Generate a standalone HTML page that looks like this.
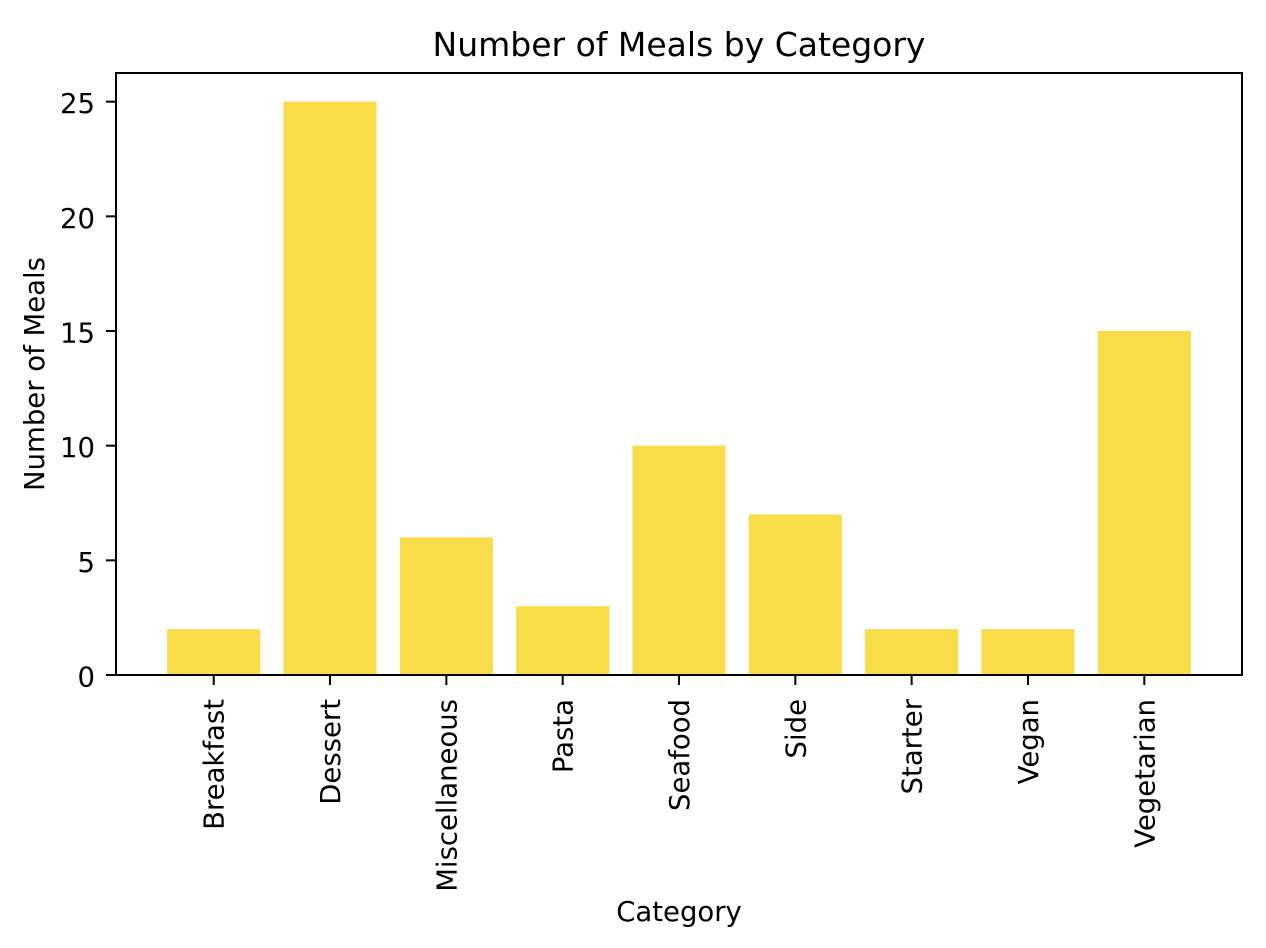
<!DOCTYPE html>
<html><head><meta charset="utf-8"><style>
html,body{margin:0;padding:0;background:#fff;}
svg{display:block;font-family:"DejaVu Sans","Liberation Sans",sans-serif;}
</style></head><body>
<svg id="chart" width="1266" height="948">
<rect width="1266" height="948" fill="#fff"/>
<text x="679" y="56" font-size="33" text-anchor="middle" fill="#000">Number of Meals by Category</text>
<text x="679" y="921" font-size="27.5" text-anchor="middle" fill="#000">Category</text>
<text transform="translate(44,374) rotate(-90)" font-size="27.5" text-anchor="middle" fill="#000">Number of Meals</text>
<g id="bars"></g><g id="axes"></g>
</svg>
<script>
const categories=["Breakfast","Dessert","Miscellaneous","Pasta","Seafood","Side","Starter","Vegan","Vegetarian"];
const counts=[2,25,6,3,10,7,2,2,15];
const yTicks=[0,5,10,15,20,25];
const L=116,R=1242,T=73,B=675;
const NS="http://www.w3.org/2000/svg";
const xmin=-0.84,xmax=categories.length-1+0.84;
const ymax=26.25;
function x(i){return L+(i-xmin)/(xmax-xmin)*(R-L);}
function y(v){return B-v/ymax*(B-T);}
const step=x(1)-x(0);
const bars=document.getElementById('bars'),axes=document.getElementById('axes');
function mk(tag,attrs,parent){const e=document.createElementNS(NS,tag);for(const k in attrs)e.setAttribute(k,attrs[k]);parent.appendChild(e);return e;}
categories.forEach((c,i)=>{
 const r=mk('rect',{x:x(i)-step*0.4,y:y(counts[i]),width:step*0.8,height:B-y(counts[i]),fill:'#f9dc4a'},bars);
 
 
 const t=mk('line',{x1:x(i),x2:x(i),y1:B,y2:B+10,stroke:'#000','stroke-width':2},axes);
 
 
 const lb=mk('text',{transform:`translate(${x(i)+10},${B+24}) rotate(-90)`,'font-size':27.5,'text-anchor':'end',fill:'#000'},axes);
 lb.textContent=c;
 
 
});
yTicks.forEach(v=>{
 const t=mk('line',{x1:L-10,x2:L,y1:y(v),y2:y(v),stroke:'#000','stroke-width':2},axes);
 
 
 const lb=mk('text',{x:L-21,y:y(v)+11.5,'font-size':27.5,'text-anchor':'end',fill:'#000'},axes);
 lb.textContent=v;
 
 
});
const f=mk('rect',{x:L,y:T,width:R-L,height:B-T,fill:'none',stroke:'#000','stroke-width':2},axes);


</script>
</body></html>
